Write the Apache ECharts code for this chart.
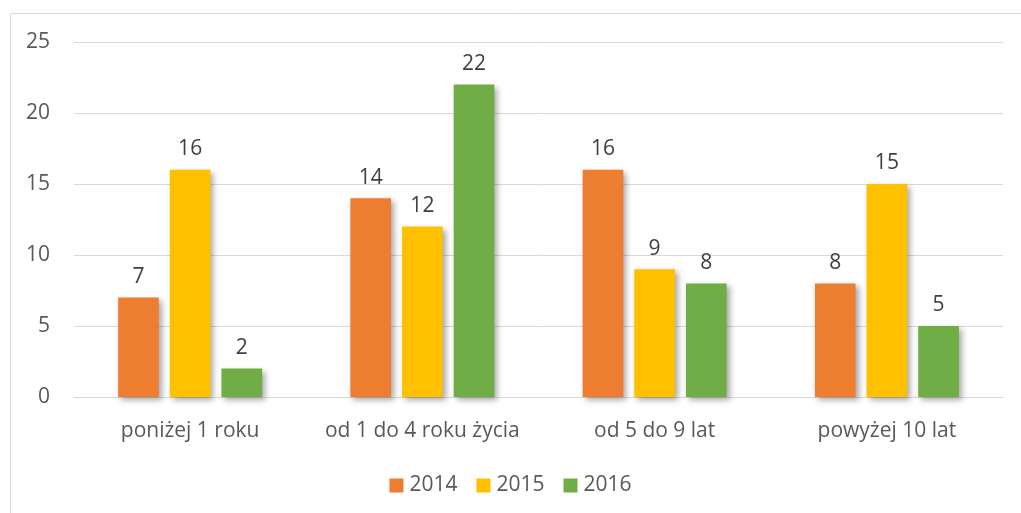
<!DOCTYPE html>
<html><head><meta charset="utf-8">
<script src="https://cdn.jsdelivr.net/npm/echarts@6/dist/echarts.min.js"></script>
<style>html,body{margin:0;padding:0;background:#fff}#c{width:1021px;height:513px}</style>
</head><body><div id="c"></div>
<script>
const categories = ['poniżej 1 roku', 'od 1 do 4 roku życia', 'od 5 do 9 lat', 'powyżej 10 lat'];
const seriesNames = ['2014', '2015', '2016'];
const values2014 = [7, 14, 16, 8];
const values2015 = [16, 12, 9, 15];
const values2016 = [2, 22, 8, 5];
const colors = ['#ED7D31', '#FFC000', '#70AD47'];
const font = '"Open Sans", Lato, sans-serif';

const chart = echarts.init(document.getElementById('c'), null, {renderer: 'canvas'});
const mk = (name, data, color) => ({
  name, type: 'bar', data,
  barGap: '27%', barCategoryGap: '38%',
  itemStyle: {color, shadowBlur: 6, shadowOffsetX: 3, shadowOffsetY: 3, shadowColor: 'rgba(0,0,0,0.35)'},
  label: {show: true, position: 'top', distance: 10, color: '#404040', fontSize: 21, fontFamily: font}
});
chart.setOption({
  animation: false,
  textStyle: {fontFamily: font},
  graphic: [{type: 'rect', shape: {x: 10.5, y: 13.5, width: 1020, height: 510}, style: {fill: 'none', stroke: '#d9d9d9', lineWidth: 1}, z: -1}],
  grid: {left: 74, right: 18, top: 42, bottom: 116, containLabel: false},
  legend: {
    top: 470, left: 'center', itemWidth: 14, itemHeight: 14, itemGap: 19, icon: 'rect',
    textStyle: {color: '#595959', fontSize: 21, fontFamily: font, padding: [0, 0, 0, 1]},
    data: seriesNames
  },
  xAxis: {
    type: 'category', data: categories,
    axisLine: {show: true, lineStyle: {color: '#d9d9d9'}},
    axisTick: {show: false},
    axisLabel: {color: '#595959', fontSize: 21, margin: 24, fontFamily: font, interval: 0, hideOverlap: false}
  },
  yAxis: {
    type: 'value', min: 0, max: 25, interval: 5,
    axisLine: {show: false}, axisTick: {show: false},
    axisLabel: {color: '#595959', fontSize: 21, margin: 24, fontFamily: font},
    splitLine: {lineStyle: {color: '#d9d9d9', width: 1}}
  },
  series: [mk(seriesNames[0], values2014, colors[0]), mk(seriesNames[1], values2015, colors[1]), mk(seriesNames[2], values2016, colors[2])]
});
</script></body></html>
